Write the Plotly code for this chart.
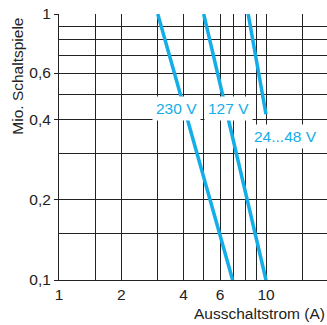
import math
import plotly.graph_objects as go

# Kennlinien (Ausschaltstrom in A, Schaltspiele in Mio.)
strom_230 = [3.0, 6.9]
spiele_230 = [1.0, 0.1]
strom_127 = [5.0, 10.0]
spiele_127 = [1.0, 0.1]
strom_24_48 = [8.2, 10.0]
spiele_24_48 = [1.0, 0.42]

x_ticks = [1, 2, 4, 6, 10]
x_ticktext = ["1", "2", "4", "6", "10"]
x_grid = [1.5, 3, 5, 7, 8, 9, 15]
y_ticks = [0.1, 0.2, 0.4, 0.6, 1]
y_ticktext = ["0,1", "0,2", "0,4", "0,6", "1"]
y_grid = [0.15, 0.3, 0.5, 0.7, 0.8, 0.9]

blau = "#13ADE8"
schrift = "Liberation Sans, Arial, sans-serif"

fig = go.Figure()
for xs, ys in [(strom_230, spiele_230), (strom_127, spiele_127), (strom_24_48, spiele_24_48)]:
    fig.add_trace(go.Scatter(x=xs, y=ys, mode="lines",
                             line=dict(color=blau, width=3.5), showlegend=False))

# beschriftungen mit weissem hintergrund
labels = [("230 V", 3.68, 0.44), ("127 V", 6.62, 0.44), ("24...48 V", 12.4, 0.345)]
for text, x, y in labels:
    fig.add_annotation(x=math.log10(x), y=math.log10(y), text=text, showarrow=False,
                       font=dict(family=schrift, size=15.5, color=blau),
                       bgcolor="white", borderpad=3)

fig.add_annotation(xref="paper", yref="paper", x=1.0, y=-0.125, xanchor="right",
                   yanchor="middle", text="Ausschaltstrom (A)", showarrow=False,
                   font=dict(family=schrift, size=15.5, color="#222"))
fig.add_annotation(xref="paper", yref="paper", x=-0.153, y=0.768, textangle=-90,
                   xanchor="center", yanchor="middle", text="Mio. Schaltspiele",
                   showarrow=False, font=dict(family=schrift, size=15.5, color="#222"))

fig.update_xaxes(type="log", range=[0, 1.2947], tickmode="array", tickvals=x_ticks,
                 ticktext=x_ticktext, ticks="", showgrid=True, gridcolor="#222",
                 gridwidth=1, showline=True, linecolor="#222", linewidth=1,
                 zeroline=False,
                 minor=dict(tickmode="array", tickvals=x_grid, showgrid=True,
                            gridcolor="#222", gridwidth=1, ticks=""),
                 tickfont=dict(family=schrift, size=15.5, color="#222"))
fig.update_yaxes(type="log", range=[-1, 0], tickmode="array", tickvals=y_ticks,
                 ticktext=y_ticktext, ticks="outside", ticklen=4, tickcolor="#222",
                 showgrid=True, gridcolor="#222", gridwidth=1, showline=True,
                 linecolor="#222", linewidth=1, zeroline=False,
                 minor=dict(tickmode="array", tickvals=y_grid, showgrid=True,
                            gridcolor="#222", gridwidth=1, ticks=""),
                 tickfont=dict(family=schrift, size=15.5, color="#222"))

fig.update_layout(width=327, height=325, margin=dict(l=59, r=0, t=14, b=45),
                  plot_bgcolor="white", paper_bgcolor="white")

# seitenrand des browsers entfernen
fig.write_html("out.html", config={"displayModeBar": False},
               post_script="document.body.style.margin='0';")
